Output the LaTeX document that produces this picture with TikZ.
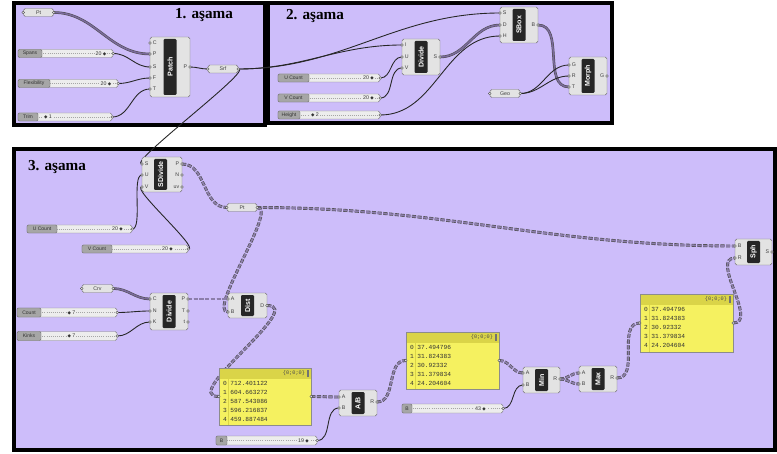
\documentclass[tikz,border=0pt]{standalone}
\usepackage{fontspec}
\setmainfont{Liberation Serif}
\setsansfont{Liberation Sans}
\setmonofont{Liberation Mono}
\newfontfamily\ghsym{DejaVu Sans}
\usetikzlibrary{positioning, calc}

\pgfdeclarelayer{back}
\pgfdeclarelayer{wires}
\pgfsetlayers{back,wires,main}

\definecolor{ghbg}{RGB}{205,189,250}
\definecolor{ghlist}{RGB}{122,106,155}
\definecolor{ghtree}{RGB}{140,126,170}
\definecolor{ghyel}{RGB}{245,241,96}
\definecolor{ghyelhead}{RGB}{218,212,72}

\newcommand{\pxu}{0.03cm}
\newcommand{\knob}{{\ghsym\fontsize{3.8}{4}\selectfont ◆}}

\tikzset{
  stageframe/.style={draw=black, line width=3.6pt, fill=ghbg},
  stagetitle/.style={font=\bfseries\fontsize{13}{14}\selectfont, inner sep=0pt},
  comp/.style={draw=black!55, fill=black!11, rounded corners=1.5pt, inner sep=0pt},
  strip/.style={fill=black!85, rounded corners=1pt, inner sep=0pt, text=white, rotate=90,
    minimum height=13*\pxu, font=\sffamily\bfseries\fontsize{6}{7}\selectfont},
  inport/.style={anchor=west, inner xsep=2.2pt, inner ysep=0pt, text=black!75,
    font=\sffamily\fontsize{4.5}{5}\selectfont},
  outport/.style={inport, anchor=east},
  param/.style={comp, minimum width=30*\pxu, minimum height=8*\pxu, text=black!75,
    font=\sffamily\fontsize{4.5}{5}\selectfont},
  slider/.style={draw=black!50, fill=black!7, rounded corners=1.5pt, inner sep=0pt,
    minimum height=8*\pxu,
    path picture={\draw[black!35, line width=0.3pt, dash pattern=on 0.5pt off 1.3pt]
      (path picture bounding box.west) -- (path picture bounding box.east);}},
  sltab/.style={anchor=west, draw=black!55, fill=black!35, rounded corners=1pt, inner sep=0pt,
    minimum height=8*\pxu, text=black!80, font=\sffamily\fontsize{4.3}{5}\selectfont},
  slval/.style={fill=black!7, inner sep=0.6pt, text=black!80, font=\sffamily\fontsize{4.5}{5}\selectfont},
  panel/.style={draw=black!45, fill=ghyel, inner sep=0pt,
    path picture={
      \fill[ghyelhead] (path picture bounding box.north west) rectangle ([yshift=-11*\pxu]path picture bounding box.north east);
      \draw[ghyelhead, line width=0.4pt] ([xshift=9*\pxu]path picture bounding box.north west) -- ([xshift=9*\pxu]path picture bounding box.south west);
      \fill[black!55] ([xshift=-4*\pxu, yshift=-2*\pxu]path picture bounding box.north east) rectangle ([xshift=-2*\pxu, yshift=-9*\pxu]path picture bounding box.north east);}},
  phead/.style={anchor=east, inner sep=0pt, text=black!70, font=\ttfamily\fontsize{4.5}{5}\selectfont},
  prows/.style={anchor=north west, align=left, inner sep=0pt, text=black!80,
    font=\ttfamily\fontsize{5.3}{7.68}\selectfont},
  plug/.style={draw=black!70, fill=white!90!black, line width=0.35pt},
  wire/.style={draw=black!85, line width=0.75pt},
  listwire/.style={draw=black!70, line width=0.45pt, double=ghlist, double distance=1.3pt},
  treewire/.style={draw=black!70, line width=0.5pt, double=ghtree, double distance=1.5pt,
    dash pattern=on 3.6pt off 1.3pt},
}

\begin{document}
\begin{tikzpicture}[x=0.03cm, y=-0.03cm]
  \useasboundingbox (0,0) rectangle (777,454);
  % frames
  \begin{pgfonlayer}{back}
    \draw[stageframe] (14,3) rectangle (265,125);
    \draw[stageframe] (268,3) rectangle (612,123);
    \draw[stageframe] (14,149) rectangle (775,450);
  \end{pgfonlayer}
  \node[stagetitle] (t1) at (204,15) {1. aşama};
  \node[stagetitle] (t2) at (315,16) {2. aşama};
  \node[stagetitle] (t3) at (57,167) {3. aşama};

  % stage 1
  \node[param] (pt1) at (38.5,12.5) {Pt};
  \node[slider, minimum width=95*\pxu] (spans) at (65.5,53.5) {};
  \node[sltab, minimum width=24*\pxu] (spans-tab) at (spans.west) {Spans};
  \node[slval] (spans-val) at (101,53.5) {20 \knob};
  \node[slider, minimum width=100*\pxu] (flex) at (68,83.5) {};
  \node[sltab, minimum width=32*\pxu] (flex-tab) at (flex.west) {Flexibility};
  \node[slval] (flex-val) at (106,83.5) {20 \knob};
  \node[slider, minimum width=94*\pxu] (trim) at (65,117) {};
  \node[sltab, minimum width=20*\pxu] (trim-tab) at (trim.west) {Trim};
  \node[slval] (trim-val) at (48,117) {\knob{} 1};
  \node[comp, minimum width=40*\pxu, minimum height=60*\pxu] (patch) at (170,67) {};
  \node[strip, minimum width=56*\pxu] (patch-name) at (patch.center) {Patch};
  \node[inport] (patch-C) at (150,43) {C};
  \node[inport] (patch-P) at (150,54) {P};
  \node[inport] (patch-S) at (150,67) {S};
  \node[inport] (patch-F) at (150,78) {F};
  \node[inport] (patch-T) at (150,89) {T};
  \node[outport] (patch-Po) at (190,67) {P};
  \node[param] (srf) at (223,69) {Srf};

  % stage 2
  \node[comp, minimum width=38*\pxu, minimum height=36*\pxu] (div2) at (421,57) {};
  \node[strip, minimum width=32*\pxu] (div2-name) at (div2.center) {Divide};
  \node[inport] (div2-I) at (402,45) {I};
  \node[inport] (div2-U) at (402,57) {U};
  \node[inport] (div2-V) at (402,68) {V};
  \node[outport] (div2-S) at (440,57) {S};
  \node[slider, minimum width=102*\pxu] (ucnt2) at (329,78) {};
  \node[sltab, minimum width=31*\pxu] (ucnt2-tab) at (ucnt2.west) {U Count};
  \node[slval] (ucnt2-val) at (368.5,78) {20 \knob};
  \node[slider, minimum width=102*\pxu] (vcnt2) at (329,98) {};
  \node[sltab, minimum width=31*\pxu] (vcnt2-tab) at (vcnt2.west) {V Count};
  \node[slval] (vcnt2-val) at (368.5,98) {20 \knob};
  \node[slider, minimum width=102*\pxu] (hgt) at (329,115) {};
  \node[sltab, minimum width=22*\pxu] (hgt-tab) at (hgt.west) {Height};
  \node[slval] (hgt-val) at (315,115) {\knob{} 2};
  \node[comp, minimum width=38*\pxu, minimum height=36*\pxu] (sbox) at (519,25) {};
  \node[strip, minimum width=32*\pxu] (sbox-name) at (sbox.center) {SBox};
  \node[inport] (sbox-S) at (500,13) {S};
  \node[inport] (sbox-D) at (500,25) {D};
  \node[inport] (sbox-H) at (500,36) {H};
  \node[outport] (sbox-B) at (538,25) {B};
  \node[param] (geo) at (505,93.5) {Geo};
  \node[comp, minimum width=38*\pxu, minimum height=38*\pxu] (morph) at (588,76) {};
  \node[strip, minimum width=34*\pxu] (morph-name) at (morph.center) {Morph};
  \node[inport] (morph-G) at (569,65) {G};
  \node[inport] (morph-R) at (569,76) {R};
  \node[inport] (morph-T) at (569,87) {T};
  \node[outport] (morph-Go) at (607,76) {G};

  % stage 3
  \node[comp, minimum width=40*\pxu, minimum height=35*\pxu] (sdiv) at (162,174.5) {};
  \node[strip, minimum width=31*\pxu] (sdiv-name) at (160.5,174.5) {SDivide};
  \node[inport] (sdiv-S) at (142,164) {S};
  \node[inport] (sdiv-U) at (142,175) {U};
  \node[inport] (sdiv-V) at (142,187) {V};
  \node[outport] (sdiv-P) at (182,164) {P};
  \node[outport] (sdiv-N) at (182,175) {N};
  \node[outport] (sdiv-uv) at (182,187) {uv};
  \node[slider, minimum width=105*\pxu] (ucnt3) at (79.5,229) {};
  \node[sltab, minimum width=30*\pxu] (ucnt3-tab) at (ucnt3.west) {U Count};
  \node[slval] (ucnt3-val) at (117.5,229) {20 \knob};
  \node[slider, minimum width=106*\pxu] (vcnt3) at (135,249) {};
  \node[sltab, minimum width=30*\pxu] (vcnt3-tab) at (vcnt3.west) {V Count};
  \node[slval] (vcnt3-val) at (167.5,249) {20 \knob};
  \node[param] (pt3) at (242,207.5) {Pt};
  \node[comp, minimum width=37*\pxu, minimum height=26*\pxu] (sph) at (753.5,252) {};
  \node[strip, minimum width=22*\pxu] (sph-name) at (sph.center) {Sph};
  \node[inport] (sph-B) at (735,246) {B};
  \node[inport] (sph-R) at (735,258) {R};
  \node[outport] (sph-S) at (772,252) {S};

  \node[param, minimum width=31*\pxu] (crv) at (97.5,288.5) {Crv};
  \node[slider, minimum width=100*\pxu, minimum height=9*\pxu] (count) at (67,312.5) {};
  \node[sltab, minimum width=24*\pxu, minimum height=9*\pxu] (count-tab) at (count.west) {Count};
  \node[slval] (count-val) at (71.5,312.5) {\knob{} 7};
  \node[slider, minimum width=100*\pxu, minimum height=9*\pxu] (kinks) at (67,336) {};
  \node[sltab, minimum width=24*\pxu, minimum height=9*\pxu] (kinks-tab) at (kinks.west) {Kinks};
  \node[slval] (kinks-val) at (71.5,336) {\knob{} 7};
  \node[comp, minimum width=38*\pxu, minimum height=37*\pxu] (div3) at (169,311.5) {};
  \node[strip, minimum width=33*\pxu] (div3-name) at (div3.center) {Divide};
  \node[inport] (div3-C) at (150,299) {C};
  \node[inport] (div3-N) at (150,311) {N};
  \node[inport] (div3-K) at (150,322) {K};
  \node[outport] (div3-P) at (188,299) {P};
  \node[outport] (div3-T) at (188,311) {T};
  \node[outport] (div3-t) at (188,322) {t};
  \node[comp, minimum width=39*\pxu, minimum height=25*\pxu] (dist) at (247.5,305.5) {};
  \node[strip, minimum width=21*\pxu] (dist-name) at (dist.center) {Dist};
  \node[inport] (dist-A) at (228,299) {A};
  \node[inport] (dist-B) at (228,312) {B};
  \node[outport] (dist-D) at (267,305.5) {D};

  \node[panel, minimum width=92*\pxu, minimum height=57*\pxu] (panel1) at (265,396.5) {};
  \node[phead] (panel1-head) at ([xshift=-6*\pxu, yshift=-5.5*\pxu]panel1.north east) {\{0;0;0\}};
  \node[prows] (panel1-rows) at ([xshift=4*\pxu, yshift=-13*\pxu]panel1.north west)
    {0 712.401122\\1 604.663272\\2 587.543086\\3 596.216837\\4 459.887484};
  \node[slider, minimum width=101*\pxu, minimum height=9*\pxu] (sl19) at (266.5,440.5) {};
  \node[sltab, minimum width=11*\pxu, minimum height=9*\pxu] (sl19-tab) at (sl19.west) {B};
  \node[slval] (sl19-val) at (303.5,440.5) {19 \knob};
  \node[comp, minimum width=38*\pxu, minimum height=26*\pxu] (ab) at (358,403) {};
  \node[strip, minimum width=22*\pxu] (ab-name) at (ab.center) {A/B};
  \node[inport] (ab-A) at (339,397) {A};
  \node[inport] (ab-B) at (339,408) {B};
  \node[outport] (ab-R) at (377,402) {R};

  \node[panel, minimum width=93*\pxu, minimum height=57*\pxu] (panel2) at (452.5,360.5) {};
  \node[phead] (panel2-head) at ([xshift=-6*\pxu, yshift=-5.5*\pxu]panel2.north east) {\{0;0;0\}};
  \node[prows] (panel2-rows) at ([xshift=4*\pxu, yshift=-13*\pxu]panel2.north west)
    {0 37.494796\\1 31.824383\\2 30.92332\\3 31.379834\\4 24.204604};
  \node[slider, minimum width=101*\pxu, minimum height=9*\pxu] (sl43) at (452.5,408.5) {};
  \node[sltab, minimum width=10*\pxu, minimum height=9*\pxu] (sl43-tab) at (sl43.west) {B};
  \node[slval] (sl43-val) at (480.5,408.5) {43 \knob};
  \node[comp, minimum width=37*\pxu, minimum height=26*\pxu] (minc) at (541.5,380) {};
  \node[strip, minimum width=22*\pxu] (minc-name) at (minc.center) {Min};
  \node[inport] (minc-A) at (523,373) {A};
  \node[inport] (minc-B) at (523,385) {B};
  \node[outport] (minc-R) at (560,379) {R};
  \node[comp, minimum width=38*\pxu, minimum height=26*\pxu] (maxc) at (598,379) {};
  \node[strip, minimum width=22*\pxu] (maxc-name) at (maxc.center) {Max};
  \node[inport] (maxc-A) at (579,373) {A};
  \node[inport] (maxc-B) at (579,384) {B};
  \node[outport] (maxc-R) at (617,378) {R};

  \node[panel, minimum width=93*\pxu, minimum height=58*\pxu] (panel3) at (686.5,323) {};
  \node[phead] (panel3-head) at ([xshift=-6*\pxu, yshift=-5.5*\pxu]panel3.north east) {\{0;0;0\}};
  \node[prows] (panel3-rows) at ([xshift=4*\pxu, yshift=-13*\pxu]panel3.north west)
    {0 37.494796\\1 31.824383\\2 30.92332\\3 31.379834\\4 24.204604};

  % plugs
  \foreach \p in {pt1,srf,geo,crv,pt3,panel1,panel2,panel3,
      patch-C,patch-P,patch-S,patch-F,patch-T,div2-I,div2-U,div2-V,sbox-S,sbox-D,sbox-H,
      morph-G,morph-R,morph-T,sdiv-S,sdiv-U,sdiv-V,sph-B,sph-R,div3-C,div3-N,div3-K,
      dist-A,dist-B,ab-A,ab-B,minc-A,minc-B,maxc-A,maxc-B}
    \draw[plug] (\p.west) circle (1.2pt);
  \foreach \p in {pt1,srf,geo,crv,pt3,panel1,panel2,panel3,
      spans,flex,trim,ucnt2,vcnt2,hgt,ucnt3,vcnt3,count,kinks,sl19,sl43,
      patch-Po,div2-S,sbox-B,morph-Go,sdiv-P,sdiv-N,sdiv-uv,sph-S,div3-P,div3-T,div3-t,
      dist-D,ab-R,minc-R,maxc-R}
    \draw[plug] (\p.east) circle (1.2pt);

  % wires
  \begin{pgfonlayer}{wires}
    \draw[listwire] (pt1.east) to[out=0,in=180] (patch-P.west);
    \draw[wire] (spans.east) to[out=0,in=180] (patch-S.west);
    \draw[wire] (flex.east) to[out=0,in=180] (patch-F.west);
    \draw[wire] (trim.east) to[out=0,in=180] (patch-T.west);
    \draw[wire] (patch-Po.east) to[out=0,in=180] (srf.west);
    \draw[wire] (srf.east) to[out=0,in=180] (div2-I.west);
    \draw[wire] (srf.east) to[out=0,in=180] (sbox-S.west);
    \draw[wire] (srf.east) to[out=0,in=180,looseness=0.3] (sdiv-S.west);
    \draw[wire] (ucnt2.east) to[out=0,in=180] (div2-U.west);
    \draw[wire] (vcnt2.east) to[out=0,in=180] (div2-V.west);
    \draw[wire] (hgt.east) to[out=0,in=180] (sbox-H.west);
    \draw[listwire] (div2-S.east) to[out=0,in=180] (sbox-D.west);
    \draw[listwire] (sbox-B.east) to[out=0,in=180] (morph-T.west);
    \draw[wire] (geo.east) to[out=0,in=180] (morph-G.west);
    \draw[wire] (geo.east) to[out=0,in=180] (morph-R.west);
    \draw[wire] (ucnt3.east) to[out=0,in=180,looseness=0.5] (sdiv-U.west);
    \draw[wire] (vcnt3.east) to[out=0,in=180,looseness=0.4] (sdiv-V.west);
    \draw[treewire] (sdiv-P.east) to[out=0,in=180] (pt3.west);
    \draw[treewire] (pt3.east) to[out=0,in=180] (sph-B.west);
    \draw[treewire] (pt3.east) to[out=0,in=180,looseness=0.5] (dist-B.west);
    \draw[listwire] (crv.east) to[out=0,in=180] (div3-C.west);
    \draw[wire] (count.east) to[out=0,in=180] (div3-N.west);
    \draw[wire] (kinks.east) to[out=0,in=180] (div3-K.west);
    \draw[treewire] (div3-P.east) to[out=0,in=180] (dist-A.west);
    \draw[treewire] (dist-D.east) to[out=0,in=180] (panel1.west);
    \draw[treewire] (panel1.east) to[out=0,in=180] (ab-A.west);
    \draw[wire] (sl19.east) to[out=0,in=180] (ab-B.west);
    \draw[treewire] (ab-R.east) to[out=0,in=180] (panel2.west);
    \draw[treewire] (panel2.east) to[out=0,in=180] (minc-A.west);
    \draw[wire] (sl43.east) to[out=0,in=180] (minc-B.west);
    \draw[treewire] (minc-R.east) to[out=0,in=180] (maxc-A.west);
    \draw[treewire] (minc-R.east) to[out=0,in=180] (maxc-B.west);
    \draw[treewire] (maxc-R.east) to[out=0,in=180] (panel3.west);
    \draw[treewire] (panel3.east) to[out=0,in=180] (sph-R.west);
  \end{pgfonlayer}
\end{tikzpicture}
\end{document}
